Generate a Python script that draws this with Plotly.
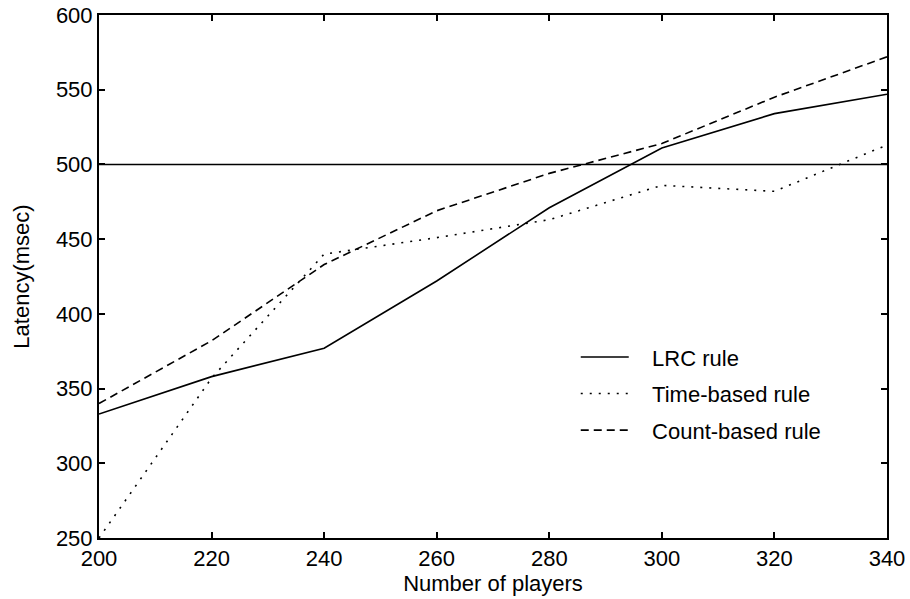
import plotly.graph_objects as go

players = [200, 220, 240, 260, 280, 300, 320, 340]
lrc_rule = [333, 358, 377, 422, 471, 511, 534, 547]
time_rule = [250, 357, 440, 451, 463, 486, 482, 513]
count_rule = [340, 382, 433, 469, 494, 514, 545, 572]
threshold = 500

x_ticks = [200, 220, 240, 260, 280, 300, 320, 340]
y_ticks = [250, 300, 350, 400, 450, 500, 550, 600]

FONT = "Liberation Sans, Arial, Helvetica, sans-serif"
PAD = "\u00a0\u00a0\u00a0"

fig = go.Figure()
fig.add_trace(go.Scatter(x=players, y=lrc_rule, mode="lines", name=PAD + "LRC rule",
                         legendgroup="a",
                         line=dict(color="black", width=1.6, dash="solid")))
fig.add_trace(go.Scatter(x=players, y=time_rule, mode="lines", name=PAD + "Time-based rule",
                         legendgroup="b",
                         line=dict(color="black", width=1.6, dash="2px,7px")))
fig.add_trace(go.Scatter(x=players, y=count_rule, mode="lines", name=PAD + "Count-based rule",
                         legendgroup="c",
                         line=dict(color="black", width=1.6, dash="8px,5px")))

fig.add_hline(y=threshold, line=dict(color="black", width=1.6))

axis_common = dict(
    showline=True, linecolor="black", linewidth=2, mirror="allticks",
    ticks="inside", ticklen=6, tickwidth=1.5, tickcolor="black",
    showgrid=False, zeroline=False, automargin=False,
    ticklabeloverflow="allow",
    tickfont=dict(family=FONT, size=22, color="black"),
)

fig.update_xaxes(range=[200, 340], tickvals=x_ticks,
                 title=dict(text="Number of players", font=dict(family=FONT, size=22, color="black"), standoff=5),
                 **axis_common)
fig.update_yaxes(range=[250, 600], tickvals=y_ticks,
                 title=dict(text="Latency(msec)", font=dict(family=FONT, size=22, color="black"), standoff=20),
                 **axis_common)

fig.update_layout(
    width=910, height=599,
    margin=dict(l=99, r=23, t=15, b=61),
    paper_bgcolor="white", plot_bgcolor="white",
    font=dict(family=FONT, size=22, color="black"),
    showlegend=True,
    legend=dict(x=0.605, y=0.276, xanchor="left", yanchor="middle",
                bgcolor="rgba(0,0,0,0)", borderwidth=0,
                font=dict(family=FONT, size=22, color="black"),
                itemwidth=48, tracegroupgap=5),
)

fig.write_html(
    "out.html",
    config={"displayModeBar": False},
    post_script="document.body.style.margin='0';document.body.style.overflow='hidden';",
)
